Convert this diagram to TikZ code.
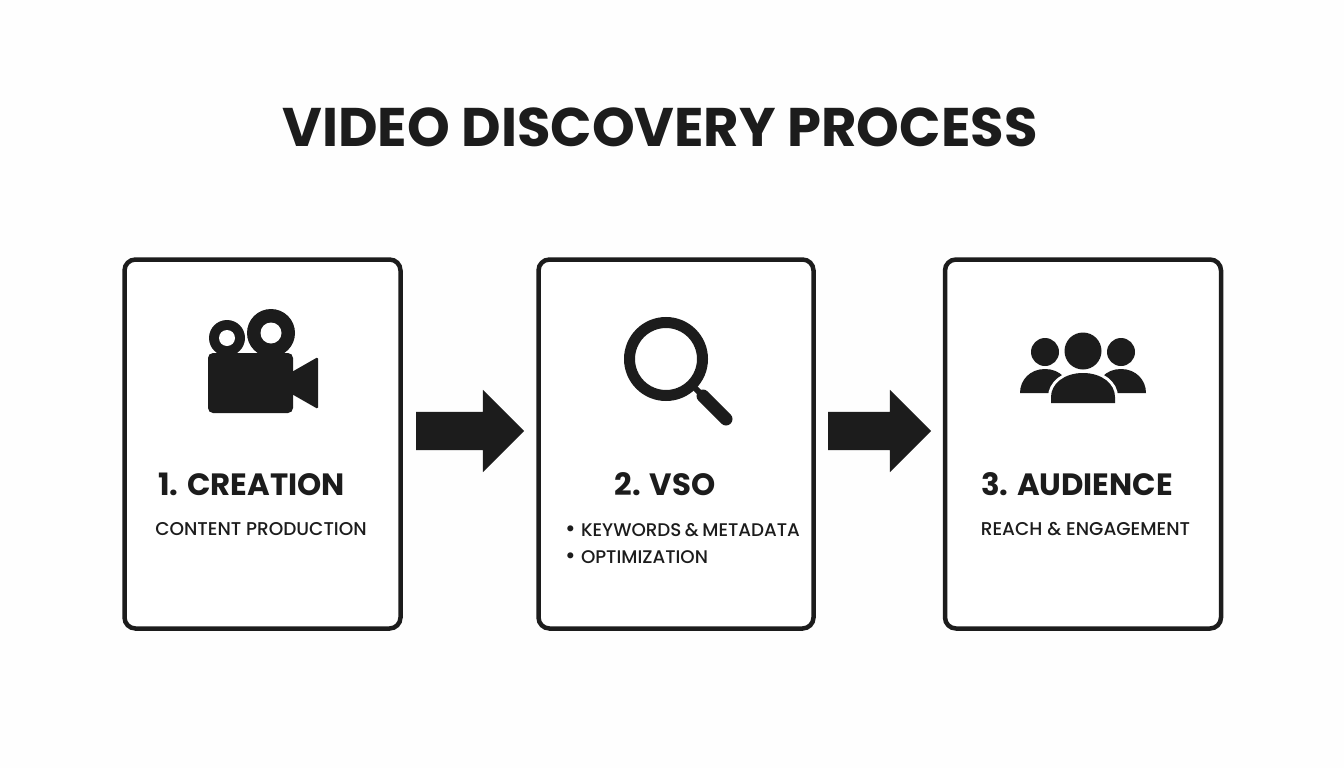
\documentclass[tikz,border=0pt]{standalone}
\usepackage{fontspec}
\setmainfont{Poppins}
\newfontfamily\stagefont{Poppins Medium}
\usetikzlibrary{shapes.arrows}
\definecolor{inkblack}{HTML}{1C1C1C}
\definecolor{paperwhite}{HTML}{FEFEFE}
\newcommand{\stagebullet}{\makebox[15.8pt][l]{\fontsize{23}{27}\stagefont •}}
\tikzset{
	stagebox/.style={rectangle,rounded corners=11pt,minimum height=369pt,draw=inkblack,line width=4.5pt,fill=white},
	stagearrow/.style={single arrow,single arrow head extend=22pt,single arrow tip angle=90,text height=38pt,text depth=0pt,inner sep=0pt,fill=inkblack},
	stagetitle/.style={text=inkblack,font=\fontsize{30.8}{34}\selectfont\bfseries,inner sep=0pt},
	stagetext/.style={text=inkblack,font=\fontsize{18.5}{27}\stagefont,inner sep=0pt},
	iconfill/.style={fill=inkblack},
	iconhole/.style={fill=white}
}
\begin{document}
\begin{tikzpicture}[x=1pt,y=-1pt]
	\useasboundingbox[fill=paperwhite] (0,0) rectangle (1344,768);
	\node (maintitle)[text=inkblack,font=\fontsize{54.4}{60}\selectfont\bfseries,inner sep=0pt] at (660,127){VIDEO DISCOVERY PROCESS};
	% the three boxes
	\node (boxcreation)[stagebox,minimum width=276pt] at (262.5,444){};
	\node (boxvso)[stagebox,minimum width=275pt] at (676,444){};
	\node (boxaudience)[stagebox,minimum width=276pt] at (1083,444){};
	\node (arrowone)[stagearrow,minimum height=108pt] at (460.5,431){};
	\node (arrowtwo)[stagearrow,minimum height=103pt] at (870,431){};
	% labels
	\node (titlecreation)[stagetitle] at (251.5,484){1. CREATION};
	\node (textcreation)[stagetext] at (261,529){CONTENT PRODUCTION};
	\node (titlevso)[stagetitle] at (665,484){2. VSO};
	\node (textvso)[stagetext,font=\fontsize{18.3}{27}\stagefont,align=left,anchor=north west] at (565,523){\stagebullet KEYWORDS\hspace{3.5pt}\&\hspace{3.5pt}METADATA\\\stagebullet OPTIMIZATION};
	\node (titleaudience)[stagetitle] at (1077,484){3. AUDIENCE};
	\node (textaudience)[stagetext] at (1085.5,529){REACH \& ENGAGEMENT};
	% camera
	\fill[iconfill] (227,338) circle (18pt);
	\fill[iconfill] (271,333) circle (24pt);
	\fill[iconhole] (227,338) circle (8pt);
	\fill[iconhole] (271,333) circle (10.5pt);
	\fill[iconfill,rounded corners=5pt] (208,353) rectangle (293,413);
	\fill[iconfill,rounded corners=1.5pt] (290,373) -- (318,357) -- (318,409) -- (290,393) -- cycle;
	% magnifier
	\draw[inkblack,line width=11pt] (666,359) circle (36.5pt);
	\draw[inkblack,line width=6pt] (692,385) -- (702,395);
	\draw[inkblack,line width=13pt,line cap=round] (703,396) -- (726,419);
	% people
	\fill[iconfill] (1045,352) circle (14pt);
	\fill[iconfill] (1121,352) circle (14pt);
	\fill[iconfill] (1083,351) circle (18.5pt);
	\fill[iconfill] (1020,393) .. controls (1020,380) and (1030,369) .. (1045,369) .. controls (1060,369) and (1070,380) .. (1070,393) -- cycle;
	\fill[iconfill] (1146,393) .. controls (1146,380) and (1136,369) .. (1121,369) .. controls (1106,369) and (1096,380) .. (1096,393) -- cycle;
	\path[iconfill,preaction={draw=white,line width=6pt}] (1051,403) -- (1051,397) .. controls (1051,384) and (1064,373) .. (1083,373) .. controls (1102,373) and (1115,384) .. (1115,397) -- (1115,403) -- cycle;
\end{tikzpicture}
\end{document}
